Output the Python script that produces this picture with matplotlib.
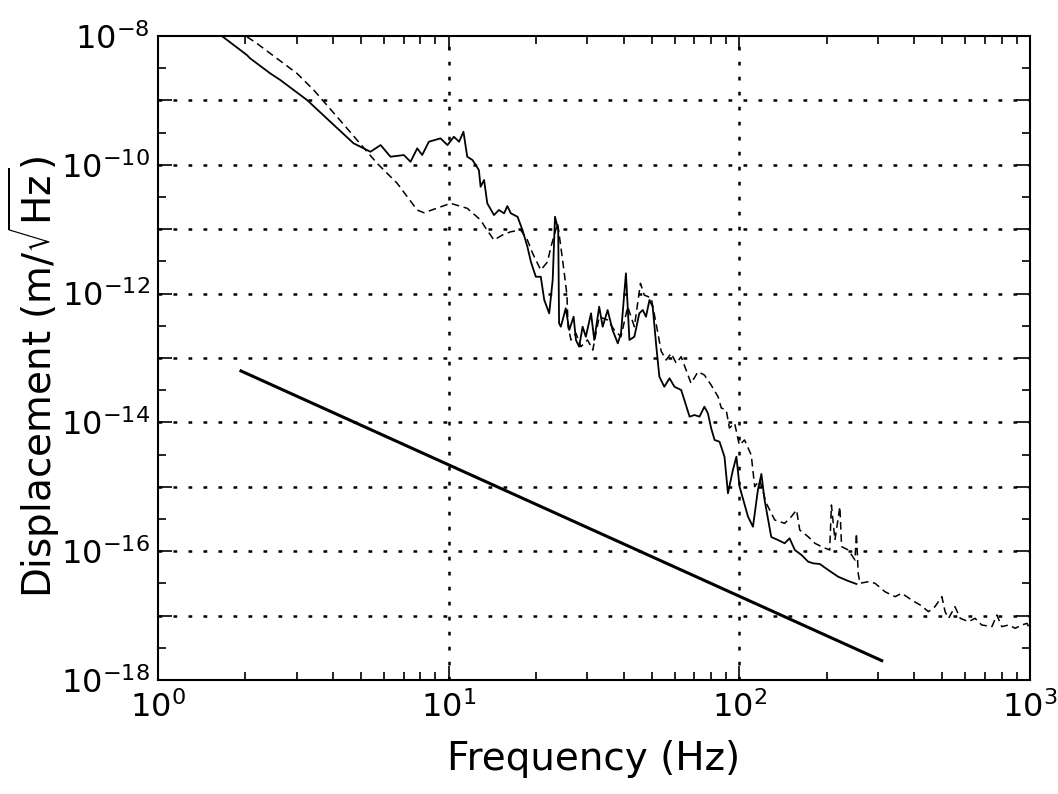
import math
import matplotlib.pyplot as plt
from matplotlib.ticker import FixedLocator, FuncFormatter, NullFormatter, LogLocator

plt.rcParams['font.family'] = ['DejaVu Sans']
plt.rcParams['mathtext.fontset'] = 'dejavusans'

# log10(frequency / Hz) and log10(displacement / m/sqrt(Hz))
solid_logf = [0.000, 0.220, 0.306, 0.317, 0.386, 0.421, 0.513, 0.599, 0.673, 0.731,
              0.766, 0.800, 0.846, 0.869, 0.892, 0.909, 0.932, 0.972, 0.996, 1.018,
              1.036, 1.051, 1.064, 1.082, 1.104, 1.110, 1.122, 1.133, 1.156, 1.173,
              1.191, 1.202, 1.214, 1.237, 1.254, 1.271, 1.283, 1.300, 1.317, 1.329,
              1.346, 1.358, 1.366, 1.377, 1.380, 1.386, 1.403, 1.415, 1.430, 1.438,
              1.449, 1.461, 1.472, 1.490, 1.501, 1.518, 1.530, 1.547, 1.564, 1.582,
              1.593, 1.610, 1.622, 1.639, 1.656, 1.668, 1.679, 1.691, 1.702, 1.714,
              1.725, 1.742, 1.760, 1.777, 1.800, 1.811, 1.829, 1.846, 1.863, 1.880,
              1.892, 1.903, 1.915, 1.932, 1.949, 1.961, 1.978, 1.990, 2.001, 2.030,
              2.047, 2.064, 2.076, 2.087, 2.110, 2.133, 2.156, 2.173, 2.191, 2.214,
              2.237, 2.254, 2.277, 2.306, 2.340, 2.375, 2.403]
solid_logd = [-8.000, -8.000, -8.295, -8.346, -8.579, -8.683, -8.994, -9.356, -9.666, -9.797,
              -9.693, -9.874, -9.848, -9.952, -9.744, -9.848, -9.641, -9.589, -9.693, -9.564,
              -9.641, -9.486, -9.874, -9.925, -10.081, -10.340, -10.236, -10.598, -10.780, -10.702,
              -10.753, -10.640, -10.753, -10.806, -11.012, -11.272, -11.505, -11.738, -11.738, -12.099,
              -12.306, -11.789, -10.806, -11.012, -12.461, -12.514, -12.228, -12.565, -12.359, -12.720,
              -12.824, -12.514, -12.669, -12.306, -12.720, -12.203, -12.514, -12.255, -12.565, -12.772,
              -12.616, -11.685, -12.720, -12.669, -12.306, -12.255, -12.359, -12.099, -12.203, -12.798,
              -13.290, -13.446, -13.315, -13.446, -13.497, -13.652, -13.911, -13.885, -13.911, -13.756,
              -13.859, -14.087, -14.273, -14.300, -14.533, -15.101, -14.739, -14.533, -14.998, -15.464,
              -15.620, -15.050, -14.801, -15.205, -15.780, -15.826, -15.877, -15.800, -15.981, -16.059,
              -16.163, -16.188, -16.199, -16.292, -16.396, -16.463, -16.509]

dashed_logf = [0.306, 0.340, 0.386, 0.478, 0.536, 0.616, 0.685, 0.754, 0.823, 0.892,
               0.915, 1.007, 1.064, 1.110, 1.128, 1.156, 1.185, 1.214, 1.248, 1.271,
               1.289, 1.317, 1.340, 1.352, 1.375, 1.386, 1.398, 1.407, 1.411, 1.421,
               1.438, 1.455, 1.478, 1.496, 1.518, 1.547, 1.570, 1.593, 1.616, 1.639,
               1.660, 1.673, 1.697, 1.720, 1.731, 1.748, 1.766, 1.783, 1.800, 1.817,
               1.834, 1.858, 1.880, 1.903, 1.927, 1.938, 1.955, 1.966, 1.984, 2.000,
               2.018, 2.041, 2.053, 2.070, 2.093, 2.122, 2.156, 2.179, 2.197, 2.208,
               2.237, 2.260, 2.283, 2.311, 2.317, 2.329, 2.346, 2.352, 2.375, 2.398,
               2.403, 2.409, 2.415, 2.444, 2.467, 2.501, 2.536, 2.559, 2.593, 2.622,
               2.651, 2.673, 2.697, 2.708, 2.720, 2.742, 2.760, 2.789, 2.811, 2.834,
               2.869, 2.886, 2.903, 2.927, 2.949, 2.972, 2.990, 3.001]
dashed_logd = [-8.011, -8.113, -8.269, -8.579, -8.839, -9.253, -9.615, -9.977, -10.287, -10.702,
               -10.744, -10.598, -10.675, -10.857, -10.986, -11.168, -11.090, -11.039, -11.012, -11.168,
               -11.374, -11.634, -11.509, -11.272, -10.908, -11.272, -11.685, -12.022, -12.514, -12.720,
               -12.616, -12.824, -12.720, -12.876, -12.359, -12.410, -12.565, -12.669, -12.203, -12.514,
               -11.840, -12.022, -12.068, -12.616, -12.891, -13.031, -12.927, -13.082, -12.980, -13.186,
               -13.393, -13.213, -13.264, -13.419, -13.601, -13.776, -13.807, -14.087, -14.014, -14.351,
               -14.273, -14.506, -14.998, -14.894, -15.256, -15.516, -15.567, -15.464, -15.360, -15.671,
               -15.775, -15.877, -15.930, -15.981, -15.283, -15.826, -15.309, -15.930, -15.981, -16.137,
               -15.722, -16.343, -16.498, -16.474, -16.498, -16.629, -16.706, -16.654, -16.758, -16.835,
               -16.939, -16.862, -16.706, -16.939, -17.042, -16.862, -17.042, -17.095, -17.042, -17.146,
               -17.172, -16.991, -17.172, -17.146, -17.197, -17.146, -17.120, -17.224]

# straight reference line
ref_freq = [1.93, 309.0]
ref_disp = [6.3e-14, 2.0e-18]

x_ticks = [1, 10, 100, 1000]
y_exponents = list(range(-18, -7))
y_labelled = [-18, -16, -14, -12, -10, -8]

solid_f = [10 ** v for v in solid_logf]
solid_d = [10 ** v for v in solid_logd]
dashed_f = [10 ** v for v in dashed_logf]
dashed_d = [10 ** v for v in dashed_logd]

fig = plt.figure(figsize=(10.58, 7.94), dpi=100)
ax = fig.add_axes([0.1493, 0.1436, 0.8242, 0.811])

ax.plot(solid_f, solid_d, color='black', lw=1.3, solid_joinstyle='round')
ax.plot(dashed_f, dashed_d, color='black', lw=1.1, linestyle=(0, (5, 3)))
ax.plot(ref_freq, ref_disp, color='black', lw=2.2)

ax.set_xscale('log')
ax.set_yscale('log')
ax.set_xlim(1, 1000)
ax.set_ylim(1e-18, 1e-8)

ax.xaxis.set_major_locator(FixedLocator(x_ticks))
ax.xaxis.set_major_formatter(FuncFormatter(lambda v, p: r'$10^{%d}$' % round(math.log10(v))))
ax.xaxis.set_minor_locator(LogLocator(base=10, subs=range(2, 10)))
ax.xaxis.set_minor_formatter(NullFormatter())

y_major = [10.0 ** e for e in y_exponents]
y_minor = [10.0 ** (e + 0.5) for e in y_exponents[:-1]]
ax.yaxis.set_major_locator(FixedLocator(y_major))
ax.yaxis.set_minor_locator(FixedLocator(y_minor))
ax.yaxis.set_major_formatter(FuncFormatter(
    lambda v, p: r'$10^{%d}$' % y_exponents[p] if y_exponents[p] in y_labelled else ''))
ax.yaxis.set_minor_formatter(NullFormatter())

ax.tick_params(which='both', direction='in', top=True, right=True, width=1.2, colors='black')
ax.tick_params(which='major', length=10)
ax.tick_params(which='minor', length=6)
ax.tick_params(axis='x', which='major', labelsize=23, pad=8)
ax.tick_params(axis='y', which='major', labelsize=23, pad=6)

for s in ax.spines.values():
    s.set_linewidth(1.5)

# dotted grid at inner decades
for e in y_exponents[1:-1]:
    ax.axhline(10.0 ** e, color='black', lw=1.8, linestyle=(0, (1.5, 4.5)), zorder=0)
for xv in x_ticks[1:-1]:
    ax.axvline(xv, color='black', lw=1.8, linestyle=(0, (1.5, 4.5)), zorder=0)

ax.set_xlabel('Frequency (Hz)', fontsize=28, labelpad=12)
ax.set_ylabel(r'Displacement (m/$\sqrt{\mathrm{Hz}}$)', fontsize=28)
ax.yaxis.set_label_coords(-0.11, 0.47)

plt.savefig('out.png', dpi=100)
